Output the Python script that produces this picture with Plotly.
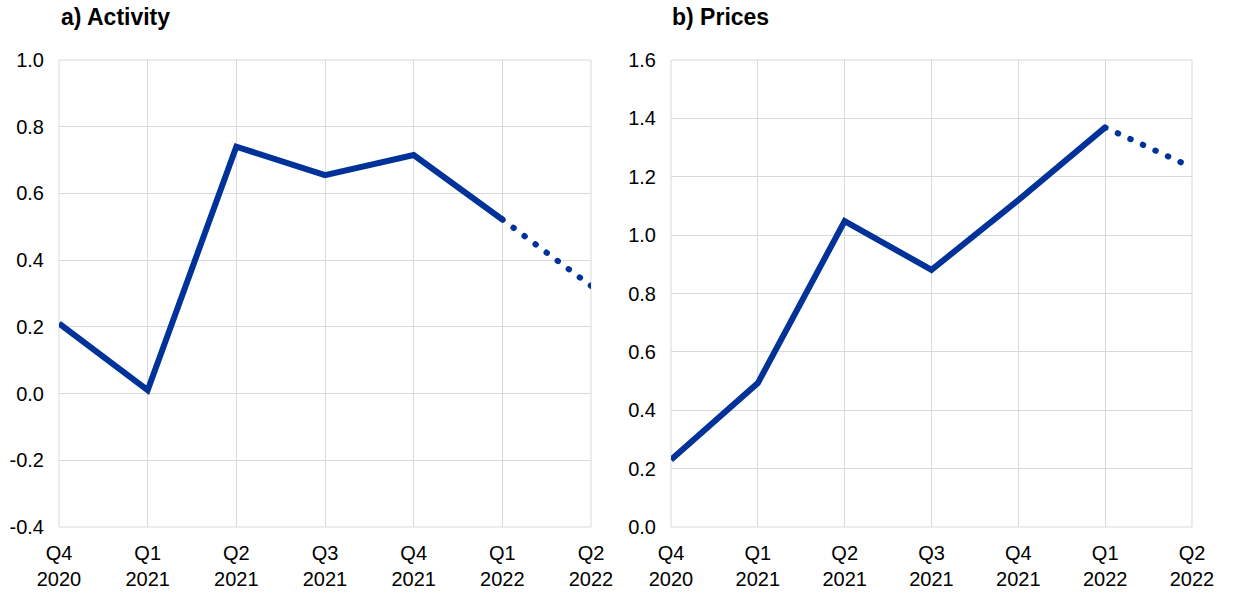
import plotly.graph_objects as go

categories = ["Q4<br>2020", "Q1<br>2021", "Q2<br>2021", "Q3<br>2021", "Q4<br>2021", "Q1<br>2022", "Q2<br>2022"]
activity_actual = [0.21, 0.01, 0.74, 0.655, 0.715, 0.522, None]
activity_proj = [None, None, None, None, None, 0.522, 0.323]
prices_actual = [0.23, 0.493, 1.048, 0.881, 1.12, 1.369, None]
prices_proj = [None, None, None, None, None, 1.369, 1.232]
act_ticks = [-0.4, -0.2, 0.0, 0.2, 0.4, 0.6, 0.8, 1.0]
act_ticktext = ["-0.4", "-0.2", "0.0", "0.2", "0.4", "0.6", "0.8", "1.0"]
price_ticks = [0.0, 0.2, 0.4, 0.6, 0.8, 1.0, 1.2, 1.4, 1.6]
price_ticktext = ["0.0", "0.2", "0.4", "0.6", "0.8", "1.0", "1.2", "1.4", "1.6"]

BLUE = "#003299"
GRID = "#d9d9d9"
FONT = "Liberation Sans, Arial, sans-serif"
DOT = "0.5px,13.3px"

fig = go.Figure()
fig.add_trace(go.Scatter(x=categories, y=activity_actual, mode="lines",
                         line=dict(color=BLUE, width=6), xaxis="x", yaxis="y", showlegend=False))
fig.add_trace(go.Scatter(x=categories, y=activity_proj, mode="lines",
                         line=dict(color=BLUE, width=6, dash=DOT), xaxis="x", yaxis="y", showlegend=False))
fig.add_trace(go.Scatter(x=categories, y=prices_actual, mode="lines",
                         line=dict(color=BLUE, width=6), xaxis="x2", yaxis="y2", showlegend=False))
fig.add_trace(go.Scatter(x=categories, y=prices_proj, mode="lines",
                         line=dict(color=BLUE, width=6, dash=DOT), xaxis="x2", yaxis="y2", showlegend=False))

W, H = 1240, 597
xd1 = [59 / W, 591 / W]
xd2 = [671 / W, 1192 / W]
yd = [(H - 527) / H, (H - 60) / H]

common_x = dict(type="category", range=[0, 6], showgrid=True, gridcolor=GRID, gridwidth=1,
                showline=False, zeroline=False, ticks="outside", ticklen=8, tickcolor="rgba(0,0,0,0)",
                tickfont=dict(family=FONT, size=20, color="#000000"), automargin=False, fixedrange=True)
common_y = dict(showgrid=True, gridcolor=GRID, gridwidth=1, showline=False, zeroline=False,
                ticks="outside", ticklen=10, tickcolor="rgba(0,0,0,0)",
                tickfont=dict(family=FONT, size=20, color="#000000"), automargin=False)

fig.update_layout(
    width=W, height=H,
    margin=dict(l=0, r=0, t=0, b=0),
    paper_bgcolor="white", plot_bgcolor="white",
    xaxis=dict(domain=xd1, anchor="y", **common_x),
    yaxis=dict(domain=yd, anchor="x", range=[-0.4, 1.0], tickmode="array",
               tickvals=act_ticks, ticktext=act_ticktext, **common_y),
    xaxis2=dict(domain=xd2, anchor="y2", **common_x),
    yaxis2=dict(domain=yd, anchor="x2", range=[0, 1.6], tickmode="array",
                tickvals=price_ticks, ticktext=price_ticktext, **common_y),
    shapes=[
        dict(type="rect", xref="x domain", yref="y domain", x0=0, x1=1, y0=0, y1=1,
             line=dict(color=GRID, width=1), layer="below"),
        dict(type="rect", xref="x2 domain", yref="y2 domain", x0=0, x1=1, y0=0, y1=1,
             line=dict(color=GRID, width=1), layer="below"),
    ],
    annotations=[
        dict(text="<b>a) Activity</b>", xref="paper", yref="paper", x=59 / W, y=1 - 2 / H,
             xanchor="left", yanchor="top", showarrow=False,
             font=dict(family=FONT, size=23, color="#000000")),
        dict(text="<b>b) Prices</b>", xref="paper", yref="paper", x=670 / W, y=1 - 2 / H,
             xanchor="left", yanchor="top", showarrow=False,
             font=dict(family=FONT, size=23, color="#000000")),
    ],
)

post = """
document.body.style.margin = '0';
document.body.style.padding = '0';
function roundDots(){
  document.querySelectorAll('.scatterlayer path.js-line').forEach(function(p){
    var d = p.style.strokeDasharray;
    if (d && d !== 'none' && d !== '') { p.style.strokeLinecap = 'round'; }
  });
}
roundDots();
var gd = document.getElementById('{plot_id}');
if (gd && gd.on) { gd.on('plotly_afterplot', roundDots); }
"""

fig.write_html("out.html", post_script=post, config={"displayModeBar": False})
